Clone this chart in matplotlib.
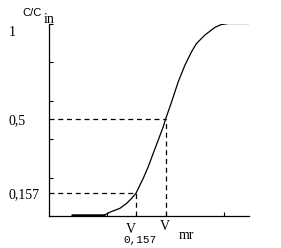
import matplotlib
matplotlib.use("Agg")
import matplotlib.pyplot as plt

# breakthrough curve (x in tick units, y as C/Cin)
v = [0.96, 1.046, 1.217, 1.332, 1.418, 1.492, 1.560, 1.617, 1.702, 1.788,
     1.874, 1.960, 2.000, 2.104, 2.217, 2.332, 2.446, 2.532, 2.674, 2.846,
     2.95, 3.074, 3.43]
c = [0.006, 0.020, 0.040, 0.066, 0.092, 0.118, 0.161, 0.196, 0.256, 0.326,
     0.395, 0.464, 0.504, 0.594, 0.698, 0.784, 0.854, 0.897, 0.940, 0.980,
     0.994, 1.0, 1.0]
flat_v = [0.38, 0.96]
flat_c = [0.006, 0.006]

# reference levels
v_mr, c_mr = 2.0, 0.504
v_157, c_157 = 1.49, 0.117

ytick_pos = [0.961, 0.504, 0.117]
ytick_lab = ["1", "0,5", "0,157"]

fig = plt.figure(figsize=(2.81, 2.48), dpi=100)
ax = fig.add_axes([49 / 281, 32 / 248, 200 / 281, 192.5 / 248])

ax.plot(v, c, color="black", lw=0.9)
ax.plot(flat_v, flat_c, color="black", lw=1.8, solid_capstyle="butt")

dash = dict(color="black", lw=0.9, ls=(0, (4, 3)))
ax.plot([0, v_mr], [c_mr, c_mr], **dash)
ax.plot([v_mr, v_mr], [0, c_mr], **dash)
ax.plot([0, v_157], [c_157, c_157], **dash)
ax.plot([v_157, v_157], [0, c_157], **dash)

ax.set_xlim(0, 3.43)
ax.set_ylim(0, 1)
for s in ["top", "right"]:
    ax.spines[s].set_visible(False)
for s in ["left", "bottom"]:
    ax.spines[s].set_linewidth(0.9)

ax.set_yticks([0, 0.2, 0.4, 0.6, 0.8, 1.0], minor=True)
ax.set_xticks([1, 2, 3], minor=True)
ax.tick_params(which="minor", direction="in", length=3, width=0.8)
ax.set_xticks([])
ax.set_yticks(ytick_pos, ytick_lab)
ax.tick_params(axis="y", which="major", length=0, pad=29)
for lbl in ax.get_yticklabels():
    lbl.set_ha("left")
    lbl.set_fontfamily("Liberation Serif")
    lbl.set_fontsize(10)

ax.text(-0.283, 1.052, "C/C", family="Liberation Sans", fontsize=8,
        ha="center", va="center", clip_on=False)
ax.text(0.01, 1.022, "in", family="Liberation Serif", fontsize=10,
        ha="center", va="center", clip_on=False)

ax.text(1.406, -0.068, "V", family="Liberation Serif", fontsize=10,
        ha="center", va="center", clip_on=False)
ax.text(1.555, -0.126, "0,157", family="Liberation Mono", fontsize=8,
        ha="center", va="center", clip_on=False)
ax.text(1.989, -0.055, "V", family="Liberation Serif", fontsize=10,
        ha="center", va="center", clip_on=False)
ax.text(2.349, -0.101, "mr", family="Liberation Serif", fontsize=10,
        ha="center", va="center", clip_on=False)

fig.savefig("out.png", dpi=100)
